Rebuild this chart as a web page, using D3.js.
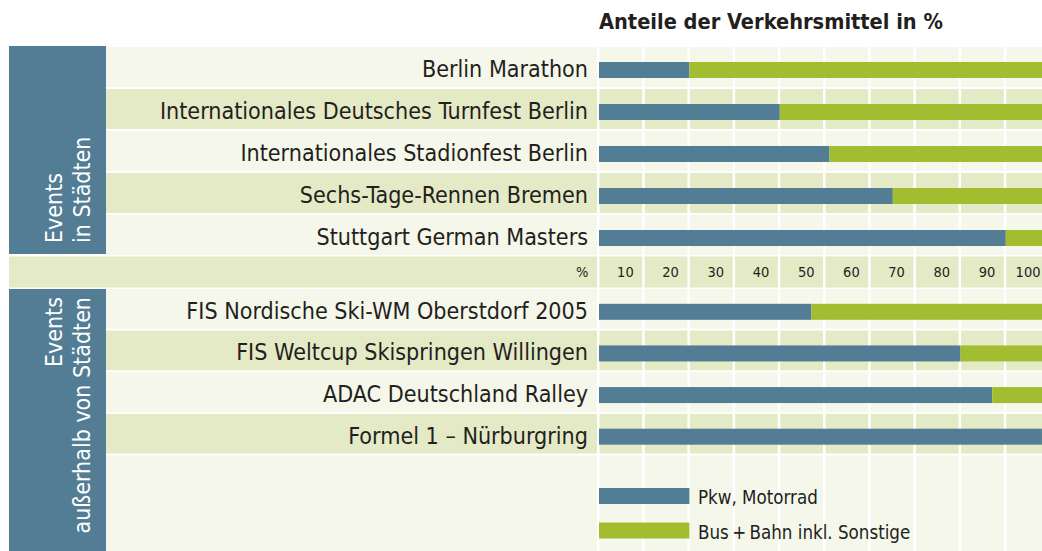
<!DOCTYPE html>
<html>
<head>
<meta charset="utf-8">
<script src="https://cdn.jsdelivr.net/npm/d3@7"></script>
<style>
  body { margin: 0; background: #fff; }
  svg { display: block; font-family: "DejaVu Sans Condensed", "DejaVu Sans", sans-serif; }
</style>
</head>
<body>
<div id="chart"></div>
<script>
const width = 1042;
const height = 551;

// data (share in %)
const eventsInCities = [
  "Berlin Marathon",
  "Internationales Deutsches Turnfest Berlin",
  "Internationales Stadionfest Berlin",
  "Sechs-Tage-Rennen Bremen",
  "Stuttgart German Masters",
];
const pkwInCities = [20, 40, 51, 65, 90];
const busInCities = [80, 60, 49, 35, 10];

const eventsOutside = [
  "FIS Nordische Ski-WM Oberstdorf 2005",
  "FIS Weltcup Skispringen Willingen",
  "ADAC Deutschland Ralley",
  "Formel 1 – Nürburgring",
];
const pkwOutside = [47, 80, 87, 98];
const busOutside = [53, 20, 13, 2];

const tickValues = [0, 10, 20, 30, 40, 50, 60, 70, 80, 90, 100];
const tickLabels = ["%", "10", "20", "30", "40", "50", "60", "70", "80", "90", "100"];

const seriesNames = ["Pkw, Motorrad", "Bus\u2009+\u2009Bahn inkl. Sonstige"];
const groupNames = [["Events", "in Städten"], ["Events", "außerhalb von Städten"]];
const title = "Anteile der Verkehrsmittel in %";

const blue = "#527d95";
const green = "#a3bd31";
const lightBg = "#f5f7eb";
const darkBg = "#e4eac6";
const textColor = "#231f20";

const x = d3.scaleLinear().domain([0, 100]).range([599, 1051]);
const color = d3.scaleOrdinal().domain(seriesNames).range([blue, green]);

const svg = d3
  .select("#chart")
  .append("svg")
  .attr("width", width)
  .attr("height", height);

function toRows(names, pkw, bus) {
  return names.map((name, i) => ({ name: name, pkw: pkw[i], bus: bus[i] }));
}

function drawGroup(rows, y0, y1) {
  const y = d3
    .scaleBand()
    .domain(rows.map((d) => d.name))
    .range([y0, y1]);

  // row backgrounds, alternating
  svg
    .append("g")
    .selectAll("rect")
    .data(rows)
    .join("rect")
    .attr("x", 106)
    .attr("y", (d) => y(d.name) + 1)
    .attr("width", width - 106)
    .attr("height", y.step() - 2)
    .attr("fill", (d, i) => (i % 2 === 0 ? lightBg : darkBg));

  return y;
}

function drawBars(rows, y) {
  const stack = d3.stack().keys(["pkw", "bus"]);
  const series = stack(rows);

  svg
    .append("g")
    .selectAll("g")
    .data(series)
    .join("g")
    .attr("fill", (s, i) => color(seriesNames[i]))
    .selectAll("rect")
    .data((s) => s)
    .join("rect")
    .attr("x", (d) => x(d[0]))
    .attr("y", (d) => y(d.data.name) + y.step() / 2 - 5)
    .attr("width", (d) => x(d[1]) - x(d[0]))
    .attr("height", 16);

  svg
    .append("g")
    .selectAll("text")
    .data(rows)
    .join("text")
    .attr("x", 588)
    .attr("y", (d) => y(d.name) + y.step() / 2 + 10)
    .attr("text-anchor", "end")
    .attr("font-size", "23.1px")
    .attr("fill", textColor)
    .text((d) => d.name);
}

function drawPanel(names, top, bottom, anchor) {
  svg
    .append("rect")
    .attr("x", 9)
    .attr("y", top)
    .attr("width", 97)
    .attr("height", bottom - top)
    .attr("fill", blue);

  const ty = anchor === "start" ? 243 : 297;
  svg
    .append("g")
    .selectAll("text")
    .data(names)
    .join("text")
    .attr("transform", (d, i) => `translate(${62 + i * 28},${ty}) rotate(-90)`)
    .attr("text-anchor", anchor)
    .attr("font-size", "23px")
    .attr("fill", "#fff")
    .text((d) => d);
}

function createChart() {
  const rowsIn = toRows(eventsInCities, pkwInCities, busInCities);
  const rowsOut = toRows(eventsOutside, pkwOutside, busOutside);

  const yIn = drawGroup(rowsIn, 46, 256);

  // axis row
  svg
    .append("rect")
    .attr("x", 9)
    .attr("y", 256.5)
    .attr("width", width - 9)
    .attr("height", 31)
    .attr("fill", darkBg);

  const yOut = drawGroup(rowsOut, 288, 454.5);

  // empty area under the lower group, holds the legend
  svg
    .append("rect")
    .attr("x", 106)
    .attr("y", 455.5)
    .attr("width", width - 106)
    .attr("height", height - 455.5)
    .attr("fill", lightBg);

  // white column separators
  svg
    .append("g")
    .selectAll("rect")
    .data(tickValues)
    .join("rect")
    .attr("x", (d) => x(d) - 2)
    .attr("y", 46)
    .attr("width", 2.5)
    .attr("height", height - 46)
    .attr("fill", "#fff");

  drawBars(rowsIn, yIn);
  drawBars(rowsOut, yOut);

  // tick labels
  const axis = d3
    .axisBottom(x)
    .tickValues(tickValues)
    .tickFormat((d, i) => tickLabels[i])
    .tickSize(0);

  const axisG = svg
    .append("g")
    .attr("transform", "translate(0,264)")
    .call(axis);
  axisG.select(".domain").remove();
  axisG.attr("font-size", null).attr("font-family", null);
  axisG
    .selectAll("text")
    .attr("text-anchor", "end")
    .attr("dx", -11)
    .style("font-size", "14.5px")
    .attr("fill", textColor);

  drawPanel(groupNames[0], 46, 254, "start");
  drawPanel(groupNames[1], 289, height, "end");

  // title
  svg
    .append("text")
    .attr("x", 599)
    .attr("y", 29)
    .attr("font-size", "21.6px")
    .attr("font-weight", "bold")
    .attr("fill", textColor)
    .text(title);

  // legend
  const legend = svg
    .append("g")
    .selectAll("g")
    .data(seriesNames)
    .join("g")
    .attr("transform", (d, i) => `translate(0,${488 + i * 34.5})`);

  legend
    .append("rect")
    .attr("x", x(0))
    .attr("width", x(20) - x(0))
    .attr("height", 16)
    .attr("fill", (d) => color(d));

  legend
    .append("text")
    .attr("x", 698)
    .attr("y", 16)
    .attr("font-size", "18.6px")
    .attr("fill", textColor)
    .text((d) => d);
}

createChart();
</script>
</body>
</html>
